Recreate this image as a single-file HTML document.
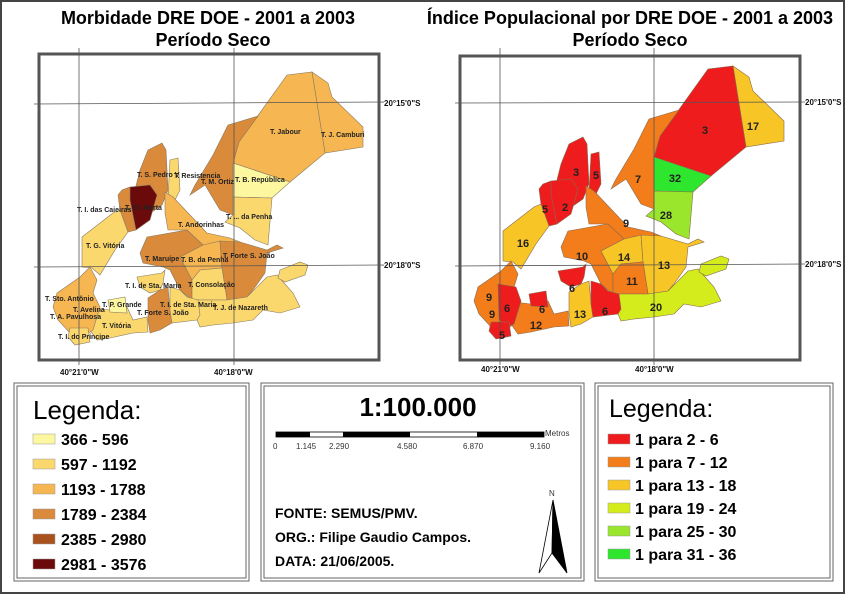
<!DOCTYPE html>
<html><head><meta charset="utf-8"><style>
body{margin:0;background:#fff;}
svg{display:block;font-family:"Liberation Sans",sans-serif;}
.t{font-weight:bold;font-size:7px;fill:#222}
.n{font-weight:bold;font-size:11px;fill:#222;text-anchor:middle}
.c{font-weight:bold;font-size:8px;fill:#111}
</style></head><body>
<svg width="846" height="596" viewBox="0 0 846 596">
<rect x="1" y="1" width="843" height="592" fill="#fff" stroke="#444" stroke-width="2"/>
<text x="208" y="24" text-anchor="middle" font-size="18" font-weight="bold">Morbidade DRE DOE - 2001 a 2003</text>
<text x="213" y="46" text-anchor="middle" font-size="18" font-weight="bold">Período Seco</text>
<text x="630" y="24" text-anchor="middle" font-size="18" font-weight="bold">Índice Populacional por DRE DOE - 2001 a 2003</text>
<text x="630" y="46" text-anchor="middle" font-size="18" font-weight="bold">Período Seco</text>

<!-- LEFT MAP -->
<g>
<rect x="39" y="54" width="340" height="306" fill="#fff" stroke="#555" stroke-width="3"/>
<g stroke="#8a7a60" stroke-width="0.6">
<polygon fill="#f6b651" points="312,72 328,83 332,97 363,127 363,147 325,153"/>
<polygon fill="#f6b651" points="239,142 287,75 312,72 325,153 290,182 233,163"/>
<polygon fill="#d98a3a" points="228,125 258,116 239,142 233,163 233,215 220,210 205,185 190,195 195,185 210,160 213,155"/>
<polygon fill="#fdf7a0" points="233,163 290,182 272,198 233,197"/>
<polygon fill="#fbd86e" points="233,197 272,198 268,245 255,240 240,228 225,222 233,215"/>
<polygon fill="#fbd86e" points="170,160 178,158 180,190 175,200 168,198"/>
<polygon fill="#d98a3a" points="148,150 162,143 166,150 168,190 162,205 152,212 140,200 135,190 140,170"/>
<polygon fill="#d98a3a" points="122,190 130,187 133,215 136,230 128,232 120,210 118,195"/>
<polygon fill="#6b0a0a" points="130,187 150,185 157,195 150,220 136,230 133,215 130,200"/>
<polygon fill="#fbd86e" points="82,237 113,213 120,210 128,232 115,250 100,275 92,268 82,267"/>
<polygon fill="#f6b651" points="165,192 173,197 207,233 230,238 240,242 227,247 203,245 187,230 168,230 165,213"/>
<polygon fill="#d98a3a" points="147,237 187,230 203,245 180,257 192,280 192,300 180,290 170,270 163,267 143,263 140,253"/>
<polygon fill="#f6b651" points="180,257 203,245 220,241 222,268 200,270 192,280"/>
<polygon fill="#d98a3a" points="220,241 240,242 267,250 277,245 283,248 267,253 265,273 253,290 247,297 227,300 222,268"/>
<polygon fill="#fbd86e" points="200,270 222,268 227,300 192,300 192,280"/>
<polygon fill="#fbd86e" points="192,300 227,300 247,297 267,277 277,275 293,293 300,307 280,313 263,310 253,320 233,323 213,325 200,327 197,320 192,313"/>
<polygon fill="#fbd86e" points="280,270 300,262 308,265 305,275 285,282 278,278"/>
<polygon fill="#fbd86e" points="137,277 162,273 165,270 163,283 160,290 150,293 140,287"/>
<polygon fill="#d98a3a" points="148,298 160,290 168,287 170,310 172,323 160,330 150,333 148,320"/>
<polygon fill="#fbd86e" points="170,287 180,290 187,297 198,300 200,315 197,320 172,323 170,310"/>
<polygon fill="#fbd86e" points="93,308 110,310 127,307 133,320 147,317 148,332 133,333 110,338 97,340 90,330"/>
<polygon fill="#f6b651" points="57,293 80,277 90,267 97,280 93,293 100,307 93,330 83,337 70,333 58,320 53,307"/>
<polygon fill="#fbd86e" points="70,328 88,328 90,342 75,345 68,337"/>
<polygon fill="#fdf7a0" points="108,300 125,297 127,313 110,312"/>
</g>
<g stroke="#555" stroke-width="0.8">
<line x1="79" y1="48" x2="79" y2="365"/><line x1="234" y1="48" x2="234" y2="365"/>
<line x1="34" y1="104" x2="384" y2="102"/><line x1="34" y1="267" x2="384" y2="265"/>
</g>
<text class="t" x="270" y="134">T. Jabour</text><text class="t" x="321" y="137">T. J. Camburi</text>
<text class="t" x="137" y="177">T. S. Pedro V</text><text class="t" x="174" y="178">T. Resistencia</text>
<text class="t" x="201" y="184">T. M. Ortiz</text><text class="t" x="235" y="182">T. B. República</text>
<text class="t" x="77" y="212">T. I. das Caieiras</text><text class="t" x="125" y="210">T. St. Marta</text>
<text class="t" x="226" y="219">T. ... da Penha</text><text class="t" x="178" y="227">T. Andorinhas</text>
<text class="t" x="86" y="248">T. G. Vitória</text>
<text class="t" x="145" y="261">T. Maruípe</text><text class="t" x="181" y="262">T. B. da Penha</text><text class="t" x="223" y="258">T. Forte S. João</text>
<text class="t" x="125" y="288">T. I. de Sta. Maria</text><text class="t" x="188" y="287">T. Consolação</text>
<text class="t" x="45" y="301">T. Sto. Antônio</text><text class="t" x="102" y="307">T. P. Grande</text>
<text class="t" x="73" y="312">T. Avelina</text><text class="t" x="160" y="307">T. I. de Sta. Maria</text><text class="t" x="213" y="310">T. J. de Nazareth</text>
<text class="t" x="50" y="319">T. A. Pavulhosa</text><text class="t" x="137" y="315">T. Forte S. João</text>
<text class="t" x="102" y="328">T. Vitória</text><text class="t" x="58" y="339">T. I. do Príncipe</text>
<text class="c" x="384" y="106">20°15'0"S</text><text class="c" x="384" y="268">20°18'0"S</text>
<text class="c" x="60" y="375">40°21'0"W</text><text class="c" x="214" y="375">40°18'0"W</text>
</g>

<!-- RIGHT MAP -->
<g>
<rect x="460" y="56" width="340" height="304" fill="#fff" stroke="#555" stroke-width="3"/>
<g transform="translate(421,-6)" stroke="#8a6a50" stroke-width="0.6">
<polygon fill="#f7c526" points="312,72 328,83 332,97 363,127 363,147 325,153"/>
<polygon fill="#ee1c1c" points="239,142 287,75 312,72 325,153 290,182 233,163"/>
<polygon fill="#f27d1a" points="228,125 258,116 239,142 233,163 233,215 220,210 205,185 190,195 195,185 210,160 213,155"/>
<polygon fill="#2ee62e" points="233,163 290,182 272,198 233,197"/>
<polygon fill="#99e62c" points="233,197 272,198 268,245 255,240 240,228 225,222 233,215"/>
<polygon fill="#ee1c1c" points="170,160 178,158 180,190 175,200 168,198"/>
<polygon fill="#ee1c1c" points="148,150 162,143 166,150 168,190 162,205 152,212 140,200 135,190 140,170"/>
<polygon fill="#ee1c1c" points="122,190 130,187 133,215 136,230 128,232 120,210 118,195"/>
<polygon fill="#ee1c1c" points="130,187 150,185 157,195 150,220 136,230 133,215 130,200"/>
<polygon fill="#f7c526" points="82,237 113,213 120,210 128,232 115,250 100,275 92,268 82,267"/>
<polygon fill="#f27d1a" points="165,192 173,197 207,233 230,238 240,242 227,247 203,245 187,230 168,230 165,213"/>
<polygon fill="#f27d1a" points="147,237 187,230 203,245 180,257 192,280 192,300 180,290 170,270 163,267 143,263 140,253"/>
<polygon fill="#f7c526" points="180,257 203,245 220,241 222,268 200,270 192,280"/>
<polygon fill="#f7c526" points="220,241 240,242 267,250 277,245 283,248 267,253 265,273 253,290 247,297 227,300 222,268"/>
<polygon fill="#f27d1a" points="200,270 222,268 227,300 192,300 192,280"/>
<polygon fill="#d4ec1c" points="192,300 227,300 247,297 267,277 277,275 293,293 300,307 280,313 263,310 253,320 233,323 213,325 200,327 197,320 192,313"/>
<polygon fill="#d4ec1c" points="280,270 300,262 308,265 305,275 285,282 278,278"/>
<polygon fill="#ee1c1c" points="137,277 162,273 165,270 163,283 160,290 150,293 140,287"/>
<polygon fill="#f7c526" points="148,298 160,290 168,287 170,310 172,323 160,330 150,333 148,320"/>
<polygon fill="#ee1c1c" points="170,287 180,290 187,297 198,300 200,315 197,320 172,323 170,310"/>
<polygon fill="#f27d1a" points="93,308 110,310 127,307 133,320 147,317 148,332 133,333 110,338 97,340 90,330"/>
<polygon fill="#f27d1a" points="57,293 80,277 90,267 97,280 93,293 100,307 93,330 83,337 70,333 58,320 53,307"/>
<polygon fill="#ee1c1c" points="77,290 95,293 100,307 93,330 85,333 78,325"/>
<polygon fill="#ee1c1c" points="70,328 88,328 90,342 75,345 68,337"/>
<polygon fill="#ee1c1c" points="108,300 125,297 127,313 110,312"/>
</g>
<g stroke="#555" stroke-width="0.8">
<line x1="500" y1="48" x2="500" y2="365"/><line x1="654" y1="48" x2="654" y2="365"/>
<line x1="455" y1="103" x2="805" y2="102"/><line x1="455" y1="266" x2="805" y2="264"/>
</g>
<text class="n" x="705" y="134">3</text><text class="n" x="753" y="130">17</text>
<text class="n" x="576" y="176">3</text><text class="n" x="596" y="179">5</text>
<text class="n" x="638" y="183">7</text><text class="n" x="675" y="182">32</text>
<text class="n" x="545" y="213">5</text><text class="n" x="565" y="211">2</text>
<text class="n" x="666" y="219">28</text><text class="n" x="626" y="227">9</text>
<text class="n" x="523" y="247">16</text><text class="n" x="582" y="260">10</text><text class="n" x="624" y="261">14</text>
<text class="n" x="664" y="269">13</text><text class="n" x="632" y="285">11</text>
<text class="n" x="572" y="292">6</text><text class="n" x="489" y="301">9</text>
<text class="n" x="507" y="312">6</text><text class="n" x="542" y="313">6</text>
<text class="n" x="656" y="311">20</text><text class="n" x="492" y="318">9</text>
<text class="n" x="580" y="318">13</text><text class="n" x="605" y="315">6</text>
<text class="n" x="536" y="329">12</text><text class="n" x="502" y="339">5</text>
<text class="c" x="805" y="105">20°15'0"S</text><text class="c" x="805" y="267">20°18'0"S</text>
<text class="c" x="481" y="372">40°21'0"W</text><text class="c" x="635" y="372">40°18'0"W</text>
</g>

<!-- LEFT LEGEND -->
<rect x="14" y="383" width="235" height="198" fill="#fff" stroke="#666" stroke-width="1"/>
<rect x="17" y="386" width="229" height="192" fill="none" stroke="#666" stroke-width="1"/>
<text x="33" y="419" font-size="26">Legenda:</text>
<g stroke="#999" stroke-width="0.5">
<rect x="33" y="434" width="22" height="10" fill="#fdf7a0"/>
<rect x="33" y="459" width="22" height="10" fill="#fbd86e"/>
<rect x="33" y="484" width="22" height="10" fill="#f6b651"/>
<rect x="33" y="509" width="22" height="10" fill="#d98a3a"/>
<rect x="33" y="534" width="22" height="10" fill="#a9521e"/>
<rect x="33" y="559" width="22" height="10" fill="#6b0a0a"/>
</g>
<g font-size="16" font-weight="bold">
<text x="61" y="445">366 - 596</text><text x="61" y="470">597 - 1192</text><text x="61" y="495">1193 - 1788</text>
<text x="61" y="520">1789 - 2384</text><text x="61" y="545">2385 - 2980</text><text x="61" y="570">2981 - 3576</text>
</g>

<!-- MIDDLE BOX -->
<rect x="261" y="383" width="323" height="198" fill="#fff" stroke="#666" stroke-width="1"/>
<rect x="264" y="386" width="317" height="192" fill="none" stroke="#666" stroke-width="1"/>
<text x="418" y="416" text-anchor="middle" font-size="26" font-weight="bold">1:100.000</text>
<rect x="276" y="432" width="268" height="5" fill="#fff" stroke="#000" stroke-width="0.8"/>
<rect x="276" y="432" width="34" height="5" fill="#000"/>
<rect x="343" y="432" width="67" height="5" fill="#000"/>
<rect x="477" y="432" width="67" height="5" fill="#000"/>
<g font-size="8" fill="#333">
<text x="273" y="449">0</text><text x="296" y="449">1.145</text><text x="329" y="449">2.290</text>
<text x="397" y="449">4.580</text><text x="463" y="449">6.870</text><text x="530" y="449">9.160</text>
<text x="545" y="436">Metros</text><text x="549" y="496">N</text>
</g>
<polygon points="553,500 539,573 552,553" fill="#fff" stroke="#000" stroke-width="0.8"/>
<polygon points="553,500 567,573 552,553" fill="#000" stroke="#000" stroke-width="0.8"/>
<g font-size="14" font-weight="bold">
<text x="275" y="518">FONTE: SEMUS/PMV.</text>
<text x="275" y="542">ORG.: Filipe Gaudio Campos.</text>
<text x="275" y="566">DATA: 21/06/2005.</text>
</g>

<!-- RIGHT LEGEND -->
<rect x="595" y="383" width="238" height="198" fill="#fff" stroke="#666" stroke-width="1"/>
<rect x="598" y="386" width="232" height="192" fill="none" stroke="#666" stroke-width="1"/>
<text x="609" y="417" font-size="25">Legenda:</text>
<g stroke="#999" stroke-width="0.5">
<rect x="608" y="434" width="22" height="10" fill="#ee1c1c"/>
<rect x="608" y="457" width="22" height="10" fill="#f27d1a"/>
<rect x="608" y="480" width="22" height="10" fill="#f7c526"/>
<rect x="608" y="503" width="22" height="10" fill="#d4ec1c"/>
<rect x="608" y="526" width="22" height="10" fill="#99e62c"/>
<rect x="608" y="549" width="22" height="10" fill="#2ee62e"/>
</g>
<g font-size="16" font-weight="bold">
<text x="635" y="445">1 para 2 - 6</text><text x="635" y="468">1 para 7 - 12</text><text x="635" y="491">1 para 13 - 18</text>
<text x="635" y="514">1 para 19 - 24</text><text x="635" y="537">1 para 25 - 30</text><text x="635" y="560">1 para 31 - 36</text>
</g>
</svg>
</body></html>
